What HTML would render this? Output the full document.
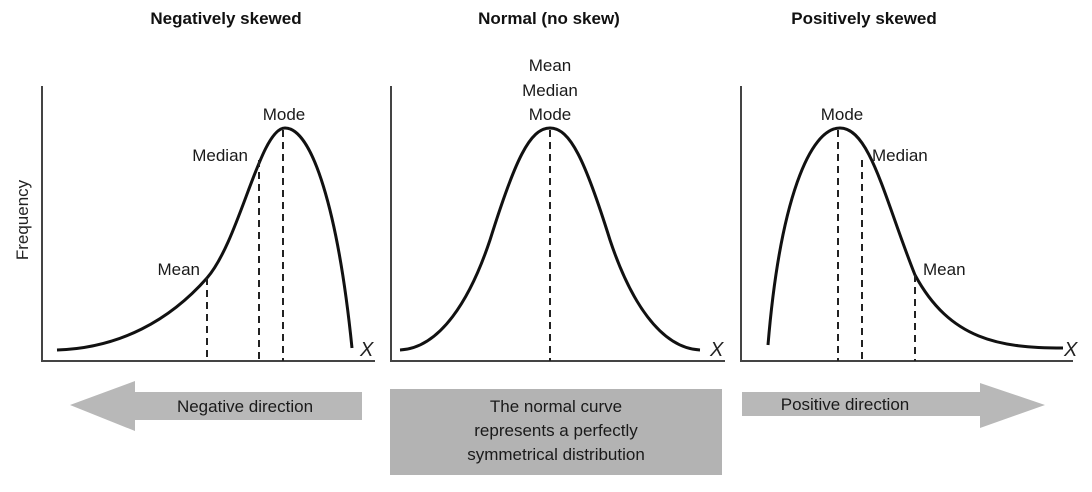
<!DOCTYPE html>
<html><head><meta charset="utf-8"><style>
body{margin:0;background:#fff;}
svg{display:block;font-family:"Liberation Sans",Arial,sans-serif;}
</style></head><body>
<svg width="1092" height="492" viewBox="0 0 1092 492" xmlns="http://www.w3.org/2000/svg">
<g font-weight="bold" font-size="17" text-anchor="middle" fill="#111">
<text x="226" y="24">Negatively skewed</text>
<text x="549" y="24">Normal (no skew)</text>
<text x="864" y="24">Positively skewed</text>
</g>
<g stroke="#444" stroke-width="2" fill="none">
<path d="M42,86 V361 H375"/>
<path d="M391,86 V361 H725"/>
<path d="M741,86 V361 H1073"/>
</g>
<text x="0" y="0" font-size="17" fill="#222" text-anchor="middle" transform="translate(28,220) rotate(-90)">Frequency</text>
<g stroke="#111" stroke-width="3" fill="none">
<path d="M57,350 C120,348 170,320 207,278 C240,240 260,128 285,128 C312,128 338,210 352,348"/>
<path d="M400,350 C440,348 470,300 490,240 C515,160 530,128 550,128 C570,128 585,160 610,240 C630,300 660,348 700,350"/>
<path d="M768,345 C780,200 810,128 840,128 C870,128 885,200 915,275 C950,340 1000,348 1063,348"/>
</g>
<g stroke="#222" stroke-width="2" stroke-dasharray="7,5" fill="none">
<path d="M207,278 V361 M259,160 V361 M283,130 V361"/>
<path d="M550,130 V361"/>
<path d="M838,130 V361 M862,160 V361 M915,275 V361"/>
</g>
<g font-size="17" fill="#1a1a1a">
<text x="284" y="120" text-anchor="middle">Mode</text>
<text x="248" y="161" text-anchor="end">Median</text>
<text x="200" y="275" text-anchor="end">Mean</text>
<text x="550" y="71" text-anchor="middle">Mean</text>
<text x="550" y="96" text-anchor="middle">Median</text>
<text x="550" y="120" text-anchor="middle">Mode</text>
<text x="842" y="120" text-anchor="middle">Mode</text>
<text x="872" y="161">Median</text>
<text x="923" y="275">Mean</text>
</g>
<g font-size="20" font-style="italic" fill="#222">
<text x="360" y="356">X</text>
<text x="710" y="356">X</text>
<text x="1064" y="356">X</text>
</g>
<path d="M70,405 L135,381 L135,392 L362,392 L362,420 L135,420 L135,431 Z" fill="#b8b8b8"/>
<path d="M1045,405 L980,383 L980,392 L742,392 L742,416 L980,416 L980,428 Z" fill="#b8b8b8"/>
<rect x="390" y="389" width="332" height="86" fill="#b3b3b3"/>
<g font-size="17" fill="#1a1a1a" text-anchor="middle">
<text x="245" y="412">Negative direction</text>
<text x="845" y="410">Positive direction</text>
<text x="556" y="412">The normal curve</text>
<text x="556" y="436">represents a perfectly</text>
<text x="556" y="460">symmetrical distribution</text>
</g>
</svg>
</body></html>
